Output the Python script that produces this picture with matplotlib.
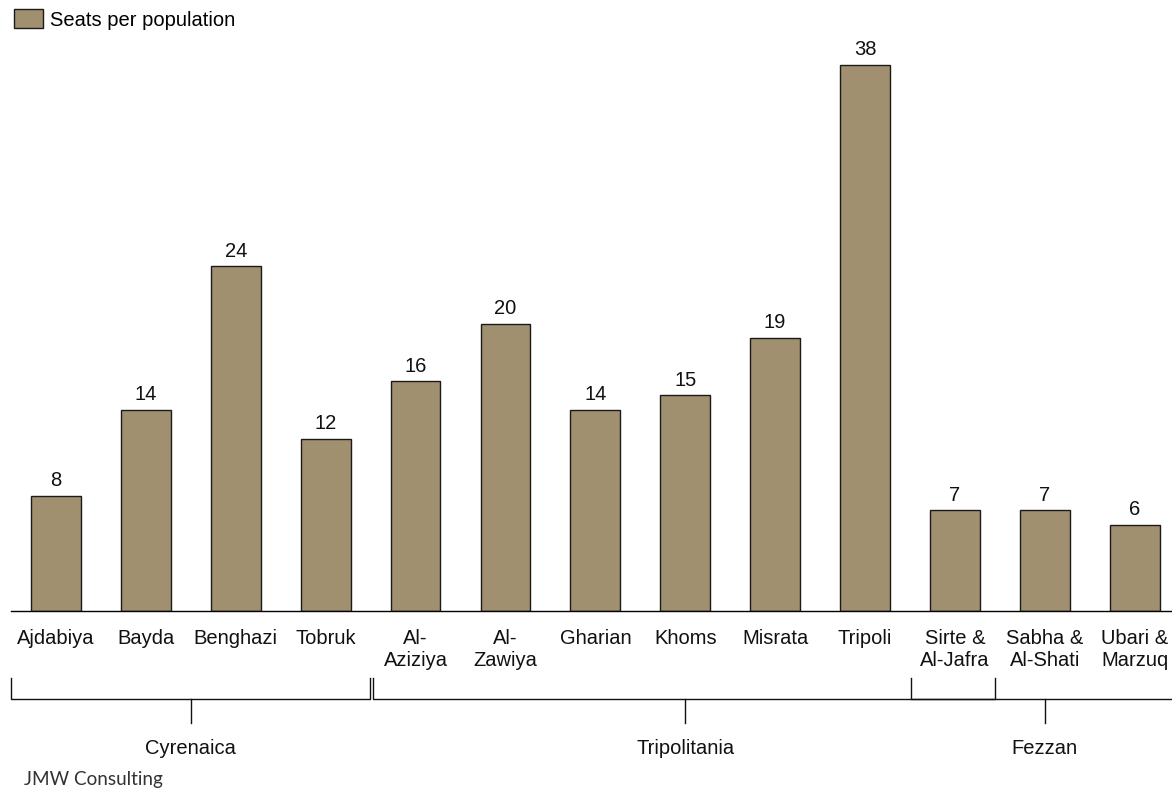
import matplotlib.pyplot as plt
from matplotlib.patches import Patch

regions = ['Ajdabiya', 'Bayda', 'Benghazi', 'Tobruk', 'Al-\nAziziya', 'Al-\nZawiya',
           'Gharian', 'Khoms', 'Misrata', 'Tripoli', 'Sirte &\nAl-Jafra',
           'Sabha &\nAl-Shati', 'Ubari &\nMarzuq']
seats = [8, 14, 24, 12, 16, 20, 14, 15, 19, 38, 7, 7, 6]
provinces = ['Cyrenaica', 'Tripolitania', 'Fezzan']
province_spans = [(-0.5, 3.49), (3.53, 10.44), (9.51, 12.6)]
province_centers = [1.5, 7, 11]

bar_color = '#a0906f'
plt.rcParams['font.family'] = ['Liberation Sans', 'DejaVu Sans']

W, H = 1172, 789
fig = plt.figure(figsize=(W / 100, H / 100), dpi=100)
px_per_unit = 14.37
cat_w = 89.9
top_val = 40
ax = fig.add_axes([11 / W, 1 - 611 / H, 13 * cat_w / W, top_val * px_per_unit / H])

fs = 14.5
x = list(range(len(seats)))
ax.bar(x, seats, width=0.555, color=bar_color, edgecolor='#1a1a1a', linewidth=1)
for xi, v in zip(x, seats):
    ax.annotate(str(v), (xi, v), xytext=(0, 4), textcoords='offset points',
                ha='center', va='bottom', fontsize=fs, color='#111111')

ax.set_xlim(-0.5, 12.5)
ax.set_ylim(0, top_val)
for s in ['top', 'right', 'left']:
    ax.spines[s].set_visible(False)
ax.spines['bottom'].set_linewidth(1)
ax.set_yticks([])
ax.set_xticks([])

def yv(pix):
    return (611 - pix) / px_per_unit

# category labels
for xi, lab in zip(x, regions):
    ax.text(xi, yv(629), lab, ha='center', va='top', fontsize=fs,
            linespacing=1.17, color='#111111', clip_on=False)

# province brackets
for name, (a, b), c in zip(provinces, province_spans, province_centers):
    ax.plot([a, a, b, b], [yv(678), yv(699), yv(699), yv(678)], color='#111111',
            lw=1, clip_on=False)
    ax.plot([c, c], [yv(699), yv(723)], color='#111111', lw=1, clip_on=False)
    ax.text(c, yv(748), name, ha='center', va='center', fontsize=fs,
            color='#111111', clip_on=False)

fig.legend(handles=[Patch(facecolor=bar_color, edgecolor='#1a1a1a', label='Seats per population')],
           loc='upper left', bbox_to_anchor=(14 / W, 1 - 9 / H), frameon=False,
           borderaxespad=0, borderpad=0,
           fontsize=fs, handlelength=1.45, handleheight=1.1, handletextpad=0.35)

fig.text(24 / W, 1 - 780 / H, 'JMW Consulting', family='Lato', fontsize=13.6,
         color='#333333', va='center', ha='left')

fig.savefig('out.png', dpi=100)
